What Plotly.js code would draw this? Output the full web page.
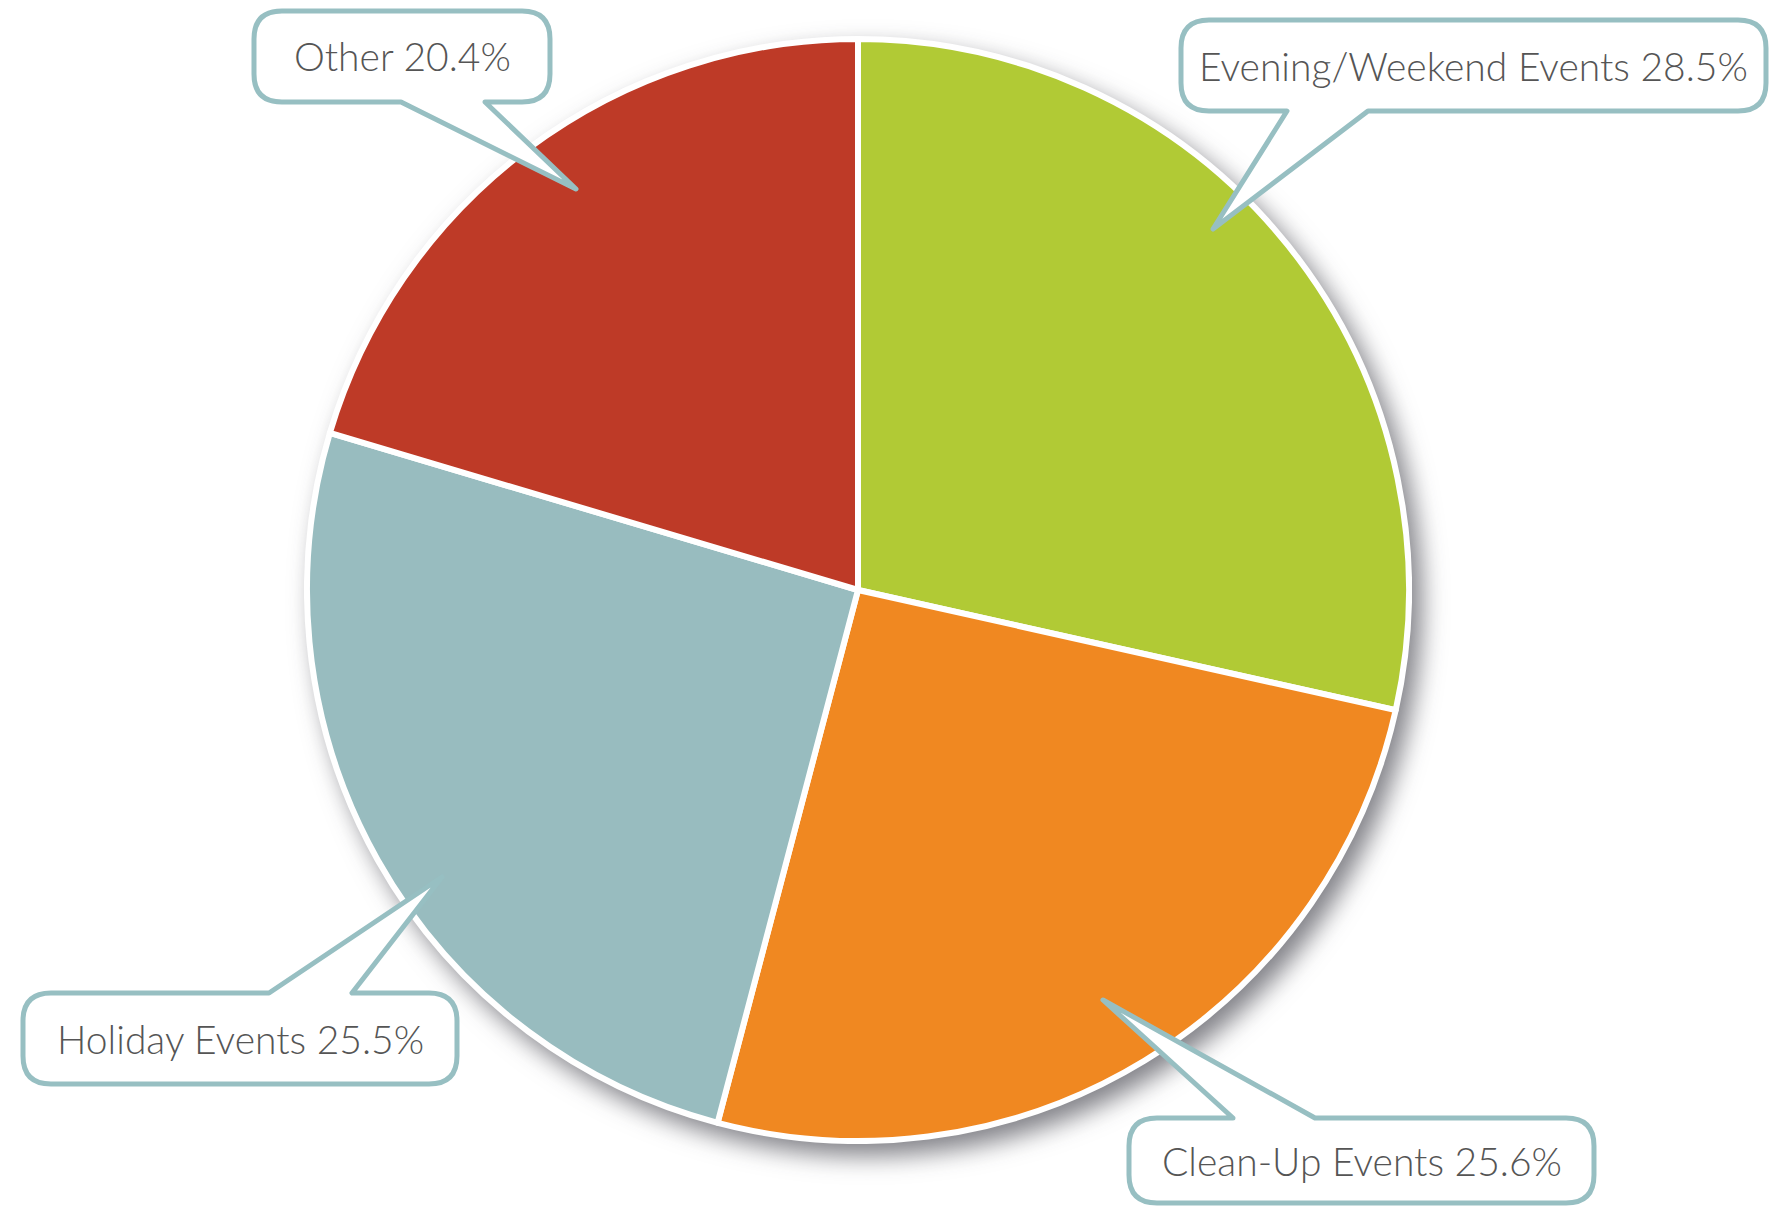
<!DOCTYPE html>
<html>
<head>
<meta charset="utf-8">
<script src="https://cdn.plot.ly/plotly-3.0.1.min.js"></script>
<style>
  html, body { margin: 0; padding: 0; background: #ffffff; }
  #chart { width: 1770px; height: 1206px; }
  #chart .pielayer { filter: drop-shadow(10px 12px 12px rgba(30,30,40,0.55)); }
  #chart .shapelayer path { stroke-linejoin: round; }
</style>
</head>
<body>
<div id="chart"></div>
<script>
// ---- data ----
const categories = ['Evening/Weekend Events', 'Clean-Up Events', 'Holiday Events', 'Other'];
const shares = [28.5, 25.6, 25.5, 20.4];
const sliceColors = ['#B1CA35', '#F08821', '#98BCBF', '#BE3A27'];

// ---- layout (pixels) ----
const W = 1770, H = 1206;
const center = [858, 590], radius = 551;
const calloutColor = '#97BFC2';
const callouts = [
  {box: [1181, 20, 1766, 111], side: 'bottom', base: [1287, 1368], tip: [1213, 229]},
  {box: [1129, 1118, 1594, 1203], side: 'top', base: [1233, 1315], tip: [1103, 1000]},
  {box: [23, 993, 457, 1084], side: 'top', base: [269, 352], tip: [442, 877]},
  {box: [254, 11, 550, 102], side: 'bottom', base: [401, 485], tip: [576, 189]}
];

const X = x => (x / W).toFixed(5);
const Y = y => (1 - y / H).toFixed(5);
const P = (x, y) => X(x) + ',' + Y(y);

function bubblePath(c) {
  const [x0, y0, x1, y1] = c.box, r = 28;
  const [b0, b1] = c.base, [tx, ty] = c.tip;
  let d = 'M' + P(x0 + r, y0);
  if (c.side === 'top') {
    d += ' L' + P(b0, y0) + ' L' + P(tx, ty) + ' L' + P(b1, y0);
  }
  d += ' L' + P(x1 - r, y0) + ' Q' + P(x1, y0) + ' ' + P(x1, y0 + r);
  d += ' L' + P(x1, y1 - r) + ' Q' + P(x1, y1) + ' ' + P(x1 - r, y1);
  if (c.side === 'bottom') {
    d += ' L' + P(b1, y1) + ' L' + P(tx, ty) + ' L' + P(b0, y1);
  }
  d += ' L' + P(x0 + r, y1) + ' Q' + P(x0, y1) + ' ' + P(x0, y1 - r);
  d += ' L' + P(x0, y0 + r) + ' Q' + P(x0, y0) + ' ' + P(x0 + r, y0) + ' Z';
  return d;
}

const shapes = callouts.map(c => ({
  type: 'path', xref: 'paper', yref: 'paper', layer: 'above',
  path: bubblePath(c),
  fillcolor: '#ffffff',
  line: {color: calloutColor, width: 5}
}));

const annotations = callouts.map((c, i) => ({
  xref: 'paper', yref: 'paper',
  x: (c.box[0] + c.box[2]) / 2 / W,
  y: 1 - (c.box[1] + c.box[3]) / 2 / H,
  xanchor: 'center', yanchor: 'middle',
  showarrow: false,
  text: categories[i] + ' ' + shares[i].toFixed(1) + '%',
  font: {family: 'Lato, "Open Sans", sans-serif', size: 39, weight: 300, color: '#555555'}
}));

const trace = {
  type: 'pie',
  labels: categories,
  values: shares,
  sort: false,
  direction: 'clockwise',
  rotation: 0,
  textinfo: 'none',
  hoverinfo: 'label+percent',
  marker: {colors: sliceColors, line: {color: '#ffffff', width: 6}},
  domain: {
    x: [(center[0] - radius) / W, (center[0] + radius) / W],
    y: [(H - center[1] - radius) / H, (H - center[1] + radius) / H]
  },
  showlegend: false
};

const layout = {
  width: W, height: H,
  margin: {l: 0, r: 0, t: 0, b: 0},
  paper_bgcolor: '#ffffff',
  plot_bgcolor: '#ffffff',
  showlegend: false,
  shapes: shapes,
  annotations: annotations
};

Plotly.newPlot('chart', [trace], layout, {displayModeBar: false, staticPlot: true});
</script>
</body>
</html>
